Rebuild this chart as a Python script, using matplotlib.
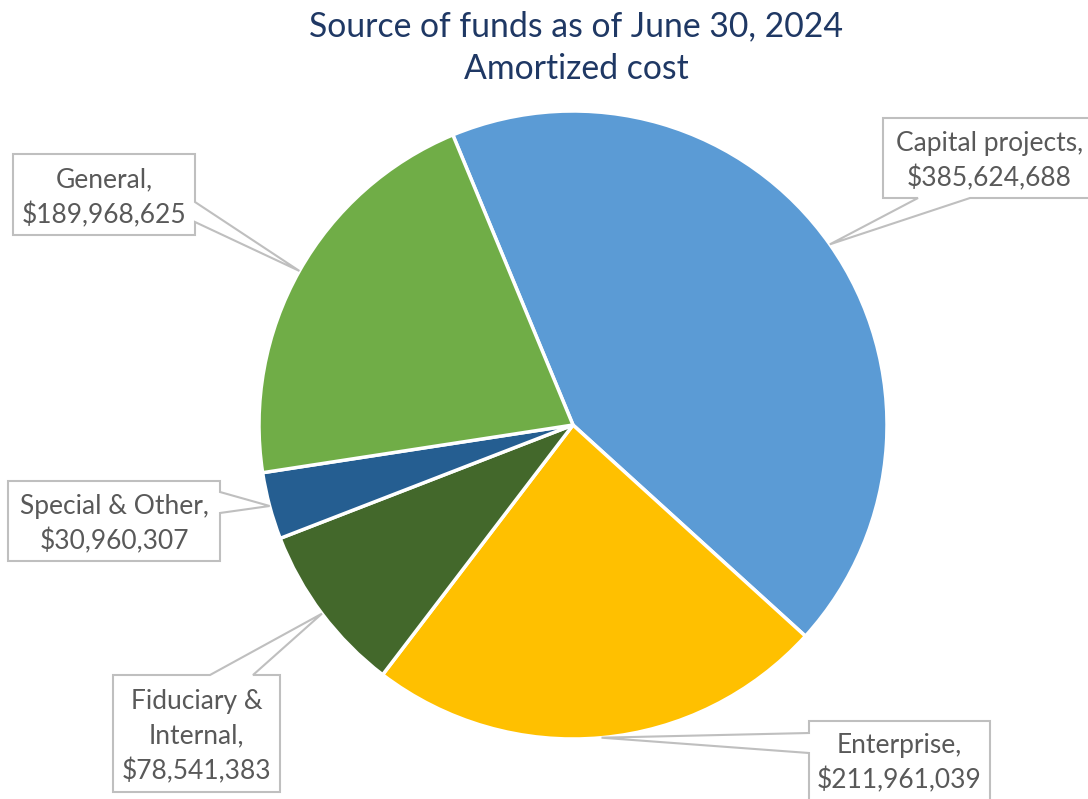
import matplotlib
matplotlib.use("Agg")
import matplotlib.pyplot as plt
from matplotlib.patches import Polygon
import numpy as np

categories = ["Capital projects", "Enterprise", "Fiduciary &\nInternal", "Special & Other", "General"]
values = [385624688, 211961039, 78541383, 30960307, 189968625]
colors = ["#5B9BD5", "#FFC000", "#43682B", "#255E91", "#70AD47"]

W, H = 1088, 799
plt.rcParams["font.family"] = ["Lato", "DejaVu Sans"]

fig = plt.figure(figsize=(W / 100, H / 100), dpi=100)
ax = fig.add_axes([0, 0, 1, 1])

cx, cy, r = 573, H - 425, 314
wedges, _ = ax.pie(values, colors=colors, startangle=112.5, counterclock=False,
                   center=(cx, cy), radius=r, frame=True,
                   wedgeprops=dict(edgecolor="white", linewidth=2.5))
ax.set_xlim(0, W)
ax.set_ylim(0, H)
ax.set_aspect("equal")
ax.axis("off")

ax.text(576, H - 48, "Source of funds as of June 30, 2024\nAmortized cost",
        ha="center", va="center", fontsize=24.3, color="#1F3864", linespacing=1.42)

# callout boxes: (left, top, right, bottom) in pixels from top-left, side of pointer, base a, base b
boxes = [
    (883, 118, 1096, 198, "bottom", 918, 970),
    (809, 721, 990, 820, "left", 733, 753),
    (113, 675, 280, 792, "top", 210, 253),
    (8, 481, 220, 561, "right", 492, 513),
    (13, 154, 195, 235, "right", 202, 222),
]

for w, name, val, (x0, y0, x1, y1, side, a, b) in zip(wedges, categories, values, boxes):
    mid = np.deg2rad((w.theta1 + w.theta2) / 2)
    tip = (cx + r * np.cos(mid), cy + r * np.sin(mid))
    Y = lambda y: H - y
    tl, tr, br, bl = (x0, Y(y0)), (x1, Y(y0)), (x1, Y(y1)), (x0, Y(y1))
    if side == "bottom":
        pts = [tl, tr, br, (b, Y(y1)), tip, (a, Y(y1)), bl]
    elif side == "top":
        pts = [tl, (a, Y(y0)), tip, (b, Y(y0)), tr, br, bl]
    elif side == "right":
        pts = [tl, tr, (x1, Y(a)), tip, (x1, Y(b)), br, bl]
    else:
        pts = [tl, tr, br, bl, (x0, Y(b)), tip, (x0, Y(a))]
    ax.add_patch(Polygon(pts, closed=True, facecolor="white", edgecolor="#BFBFBF",
                         linewidth=1.5, zorder=3))
    ty = H - (y0 + y1) / 2 if y1 < H else H - (y0 + 799) / 2
    ax.text((x0 + x1) / 2, ty - 3, f"{name},\n${val:,}", ha="center", va="center",
            fontsize=19, color="#595959", linespacing=1.45, zorder=4)

fig.savefig("out.png", dpi=100)
